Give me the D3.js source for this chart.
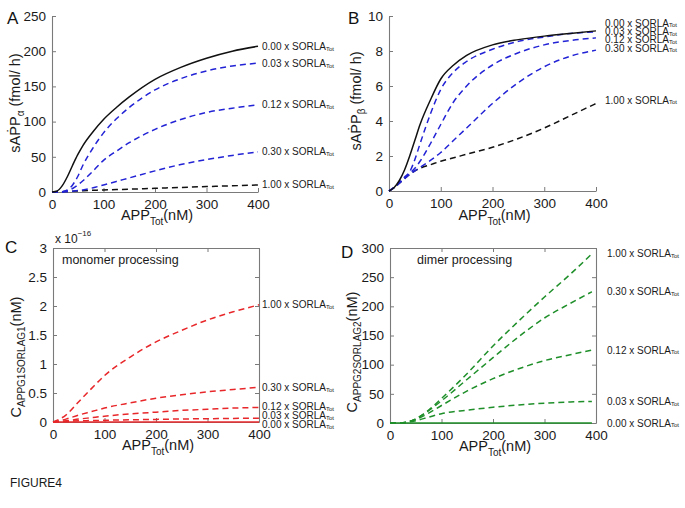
<!DOCTYPE html>
<html><head><meta charset="utf-8">
<script src="https://cdn.jsdelivr.net/npm/d3@7"></script>
<style>
body{margin:0;background:#fff;}
svg{display:block;font-family:"Liberation Sans",Arial,Helvetica,sans-serif;}
</style></head>
<body>
<svg id="c" width="685" height="508"></svg>
<script>
// ---------- DATA ----------
const sorlaLevels = ["0.00", "0.03", "0.12", "0.30", "1.00"];

const xA = [0,10,20,30,40,50,60,80,100,125,150,200,250,300,350,400];
const a000 = [0,1.5,9,22,38,53,66,86,103,120,135,160,177,190,200,207];
const a003 = [0,0,0.5,3,10,22,38,63,84,104,120,145,161,172,179,183];
const a012 = [0,0,0.5,2,5,10,16,30,45,58,70,89,103,113,119,124];
const a030 = [0,0,0,0.5,1,2,3,6,10,15,20,30,39,46,52,57];
const a100 = [0,0.2,0.5,0.8,1.1,1.5,1.8,2.4,3,3.5,4,5.3,6.5,7.7,8.8,10];
const aTicksY = [0,50,100,150,200,250];

const xB = [0,10,20,30,40,50,60,80,100,125,150,200,250,300,350,400];
const b000 = [0,0.2,0.6,1.2,2.0,2.9,3.8,5.2,6.4,7.2,7.75,8.35,8.65,8.85,9.0,9.15];
const b003 = [0,0.2,0.5,0.8,1.1,1.8,2.7,4.4,5.8,6.8,7.4,8.1,8.55,8.8,9.0,9.1];
const b012 = [0,0.2,0.45,0.75,1.0,1.3,1.7,2.7,3.8,5.1,6.0,7.2,7.9,8.35,8.6,8.75];
const b030 = [0,0.2,0.45,0.7,0.95,1.15,1.35,1.75,2.2,2.9,3.6,5.0,6.2,7.1,7.7,8.05];
const b100 = [0,0.2,0.45,0.7,0.95,1.15,1.3,1.5,1.7,1.9,2.1,2.5,3.0,3.6,4.3,5.0];
const bTicksY = [0,2,4,6,8,10];
const bLabelVals = [9.6,9.1,8.63,8.17,5.2];

const xC = [0,25,50,75,100,150,200,250,300,350,400];
const c000 = [0,0,0,0,0,0,0,0,0,0,0];
const c003 = [0,0.01,0.02,0.025,0.03,0.038,0.045,0.052,0.057,0.062,0.065];
const c012 = [0,0.02,0.05,0.075,0.1,0.14,0.17,0.2,0.22,0.24,0.25];
const c030 = [0,0.05,0.12,0.18,0.24,0.33,0.41,0.47,0.52,0.56,0.6];
const c100 = [0,0.12,0.35,0.58,0.8,1.12,1.38,1.58,1.76,1.9,2.02];
const cTicksY = [0,0.5,1,1.5,2,2.5,3];
const cLabelVals = [-0.04,0.105,0.26,0.6,2.02];

const xD = [0,25,50,75,100,150,200,250,300,350,392];
const d000 = [0,0,0,0,0,0,0,0,0,0,0];
const d003 = [0,0.5,4,10,16,22,27,31,34,36,37];
const d012 = [0,0.5,6,17,30,55,76,93,107,117,125];
const d030 = [0,0.5,7,21,38,75,112,148,180,205,225];
const d100 = [0,0.5,7,22,42,85,132,175,216,255,290];
const dTicksY = [0,50,100,150,200,250,300];

const xTicks = [0,100,200,300,400];

// ---------- DRAW ----------
const svg = d3.select("#c");
const AX = "#7a7a7a";
const BLUE = "#2323d6", RED = "#e8272a", GREEN = "#1f8f2a", BLACK = "#111";

function panel(o){
  const g = svg.append("g");
  const x = d3.scaleLinear().domain([0,400]).range([o.left,o.right]);
  const y = d3.scaleLinear().domain([0,o.ymax]).range([o.bottom,o.top]);
  const axL = d3.axisLeft(y).tickValues(o.ticksY).tickSizeInner(-4).tickSizeOuter(0).tickPadding(6)
    .tickFormat(d=>String(d));
  const axB = d3.axisBottom(x).tickValues(xTicks).tickSizeInner(-4).tickSizeOuter(0).tickPadding(7);
  g.append("g").attr("transform",`translate(${o.left},0)`).call(axL);
  g.append("g").attr("transform",`translate(0,${o.bottom})`).call(axB);
  if(o.box){
    const axR = d3.axisRight(y).tickValues(o.ticksY).tickSizeInner(-4).tickSizeOuter(0).tickFormat("");
    const axT = d3.axisTop(x).tickValues(xTicks).tickSizeInner(-4).tickSizeOuter(0).tickFormat("");
    g.append("g").attr("transform",`translate(${o.right},0)`).call(axR);
    g.append("g").attr("transform",`translate(0,${o.top})`).call(axT);
  }
  g.selectAll(".domain").attr("stroke",AX).attr("stroke-width",1.1);
  g.selectAll(".tick line").attr("stroke",AX);
  g.selectAll(".tick text").attr("fill","#1a1a1a").style("font-size","13.5px")
    .style("font-family",'"Liberation Sans",Arial,sans-serif');

  const line = d3.line().curve(d3.curveMonotoneX);
  o.series.forEach(s=>{
    const pts = o.xs.map((v,i)=>[x(v),y(s.v[i])]);
    g.append("path").attr("d",line(pts)).attr("fill","none")
      .attr("stroke",s.c).attr("stroke-width",1.5)
      .attr("stroke-dasharray",s.dash?"6,4":null);
  });

  o.series.forEach((s,i)=>{
    const lv = o.labelVals ? o.labelVals[i] : s.v[s.v.length-1];
    const t = g.append("text").attr("x",o.right+o.lgap).attr("y",y(lv)).attr("dy","0.35em")
      .attr("fill","#1a1a1a").style("font-size","10px");
    t.append("tspan").text(s.name+" x SORLA");
    t.append("tspan").text("Tot").style("font-size","6px").attr("dy","0.15em");
  });

  const xl = g.append("text").attr("x",(o.left+o.right)/2+2).attr("y",o.bottom+o.xlabDy)
    .attr("text-anchor","middle").style("font-size","14.5px").attr("fill","#1a1a1a");
  xl.append("tspan").text("APP");
  xl.append("tspan").text("Tot").style("font-size","10px").attr("dy","5");
  xl.append("tspan").text("(nM)").attr("dy","-5");

  const yl = g.append("text").attr("transform",`translate(${o.ylabX},${o.ylabY}) rotate(-90)`)
    .attr("text-anchor","middle").style("font-size","14.5px").attr("fill","#1a1a1a");
  yl.append("tspan").text(o.ylab[0]);
  yl.append("tspan").text(o.ylab[1]).style("font-size",o.subSize).attr("dy","4");
  yl.append("tspan").text(o.ylab[2]).attr("dy","-4");

  g.append("text").attr("x",o.letterX).attr("y",o.letterY).text(o.letter)
    .style("font-size","17px").attr("fill","#111");

  if(o.title){
    g.append("text").attr("x",o.titleX).attr("y",o.top+16).text(o.title)
      .style("font-size","12.5px").attr("fill","#1a1a1a");
  }
  return {g,x,y};
}

const names = sorlaLevels;

panel({left:52,right:258,top:16,bottom:192,ymax:250,ticksY:aTicksY,xs:xA,lgap:4,
  series:[
    {name:names[4],v:a100,c:BLACK,dash:true},
    {name:names[3],v:a030,c:BLUE,dash:true},
    {name:names[2],v:a012,c:BLUE,dash:true},
    {name:names[1],v:a003,c:BLUE,dash:true},
    {name:names[0],v:a000,c:BLACK,dash:false}],
  xlabDy:28, ylab:["sA\u1E56P","\u03B1"," (fmol/ h)"], subSize:"10px", ylabX:20, ylabY:103,
  letter:"A", letterX:7, letterY:24});

panel({left:389,right:596,top:16,bottom:191,ymax:10,ticksY:bTicksY,xs:xB,lgap:9,
  labelVals:[bLabelVals[4],bLabelVals[3],bLabelVals[2],bLabelVals[1],bLabelVals[0]],
  series:[
    {name:names[4],v:b100,c:BLACK,dash:true},
    {name:names[3],v:b030,c:BLUE,dash:true},
    {name:names[2],v:b012,c:BLUE,dash:true},
    {name:names[1],v:b003,c:BLUE,dash:true},
    {name:names[0],v:b000,c:BLACK,dash:false}],
  xlabDy:29, ylab:["sA\u1E56P","\u03B2"," (fmol/ h)"], subSize:"10px", ylabX:361, ylabY:101,
  letter:"B", letterX:348, letterY:24});

const pc = panel({left:53,right:259,top:248,bottom:422,ymax:3,ticksY:cTicksY,xs:xC,lgap:3,box:true,
  labelVals:cLabelVals,
  series:[
    {name:names[0],v:c000,c:RED,dash:false},
    {name:names[1],v:c003,c:RED,dash:true},
    {name:names[2],v:c012,c:RED,dash:true},
    {name:names[3],v:c030,c:RED,dash:true},
    {name:names[4],v:c100,c:RED,dash:true}],
  xlabDy:28, ylab:["C","APPG1SORLAG1","(nM)"], subSize:"10px", ylabX:21, ylabY:357,
  letter:"C", letterX:5, letterY:253, title:"monomer processing", titleX:62});
const ex = pc.g.append("text").attr("x",55).attr("y",243).style("font-size","12px").attr("fill","#1a1a1a");
ex.append("tspan").text("x 10");
ex.append("tspan").text("\u221216").style("font-size","8px").attr("dy","-7");

panel({left:390,right:596,top:248,bottom:423,ymax:300,ticksY:dTicksY,xs:xD,lgap:11,box:true,
  series:[
    {name:names[0],v:d000,c:GREEN,dash:false},
    {name:names[1],v:d003,c:GREEN,dash:true},
    {name:names[2],v:d012,c:GREEN,dash:true},
    {name:names[3],v:d030,c:GREEN,dash:true},
    {name:names[4],v:d100,c:GREEN,dash:true}],
  xlabDy:28, ylab:["C","APPG2SORLAG2","(nM)"], subSize:"10px", ylabX:357, ylabY:352,
  letter:"D", letterX:341, letterY:258, title:"dimer processing", titleX:417});

svg.append("text").attr("x",10).attr("y",487).text("FIGURE4").style("font-size","12px").attr("fill","#1a1a1a");
</script>
</body></html>
